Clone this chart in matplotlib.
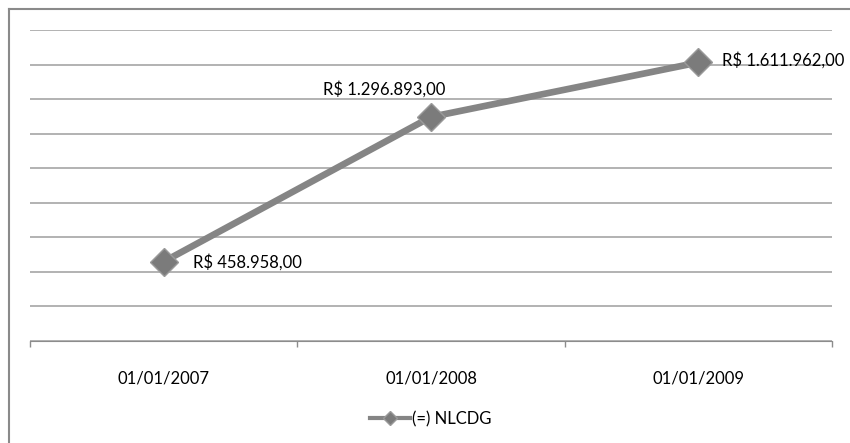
import numpy as np
import matplotlib.pyplot as plt
from matplotlib.lines import Line2D

# data
categories = ["01/01/2007", "01/01/2008", "01/01/2009"]
values = [458958.00, 1296893.00, 1611962.00]
labels = ["R$ 458.958,00", "R$ 1.296.893,00", "R$ 1.611.962,00"]
series_name = "(=) NLCDG"

plt.rcParams["font.family"] = ["Lato", "DejaVu Sans"]
fs = 12

fig = plt.figure(figsize=(8.5, 4.43), dpi=100)
W, H = 850, 443
ax = fig.add_axes([30/W, 1 - 341/H, (832 - 30)/W, (341 - 30)/H])

x = np.arange(len(categories))
line_col = "#858585"
ax.plot(x, values, "-", color=line_col, lw=4.8, solid_capstyle="butt", zorder=3)
ax.plot(x, values, "D", color="#7b7b7b", markeredgecolor="#9a9a9a", markeredgewidth=1, markersize=14, zorder=4)

# data labels
ax.annotate(labels[0], (x[0], values[0]), xytext=(21, 0), textcoords="offset points",
            ha="left", va="center", fontsize=fs)
ax.annotate(labels[1], (x[1], values[1]), xytext=(10, 20), textcoords="offset points",
            ha="right", va="center", fontsize=fs)
ax.annotate(labels[2], (x[2], values[2]), xytext=(17, 2), textcoords="offset points",
            ha="left", va="center", fontsize=fs)

ax.set_xlim(-0.5, len(categories) - 0.5)
ax.set_ylim(0, 1800000)
ax.set_yticks(np.arange(0, 1800001, 200000))
ax.yaxis.grid(True, color="#a6a6a6", lw=1.2)
ax.set_axisbelow(True)
ax.tick_params(axis="y", length=0, labelleft=False)

ax.set_xticks(np.arange(-0.5, len(categories), 1.0))
ax.set_xticklabels([])
ax.set_xticks(x, minor=True)
ax.set_xticklabels(categories, minor=True, fontsize=fs)
ax.tick_params(axis="x", which="major", length=4, color="#8c8c8c", width=1)
ax.tick_params(axis="x", which="minor", length=0, pad=21)

for s in ["top", "right", "left"]:
    ax.spines[s].set_visible(False)
ax.spines["bottom"].set_color("#8c8c8c")

# legend
handle = Line2D([], [], color=line_col, lw=3, marker="D", markersize=7,
                markerfacecolor="#7b7b7b", markeredgecolor="#9a9a9a")
fig.legend([handle], [series_name], loc="center", bbox_to_anchor=(431/W, 1 - 419/H),
           frameon=False, fontsize=fs, handlelength=2.4, handletextpad=0.1)

# outer chart border (left and top visible)
fig.add_artist(Line2D([8.5/W, 8.5/W], [0, 1 - 8.5/H], color="#8a8a8a", lw=1.5))
fig.add_artist(Line2D([8.5/W, 1], [1 - 8.5/H, 1 - 8.5/H], color="#8a8a8a", lw=1.5))

fig.savefig("out.png", dpi=100)
